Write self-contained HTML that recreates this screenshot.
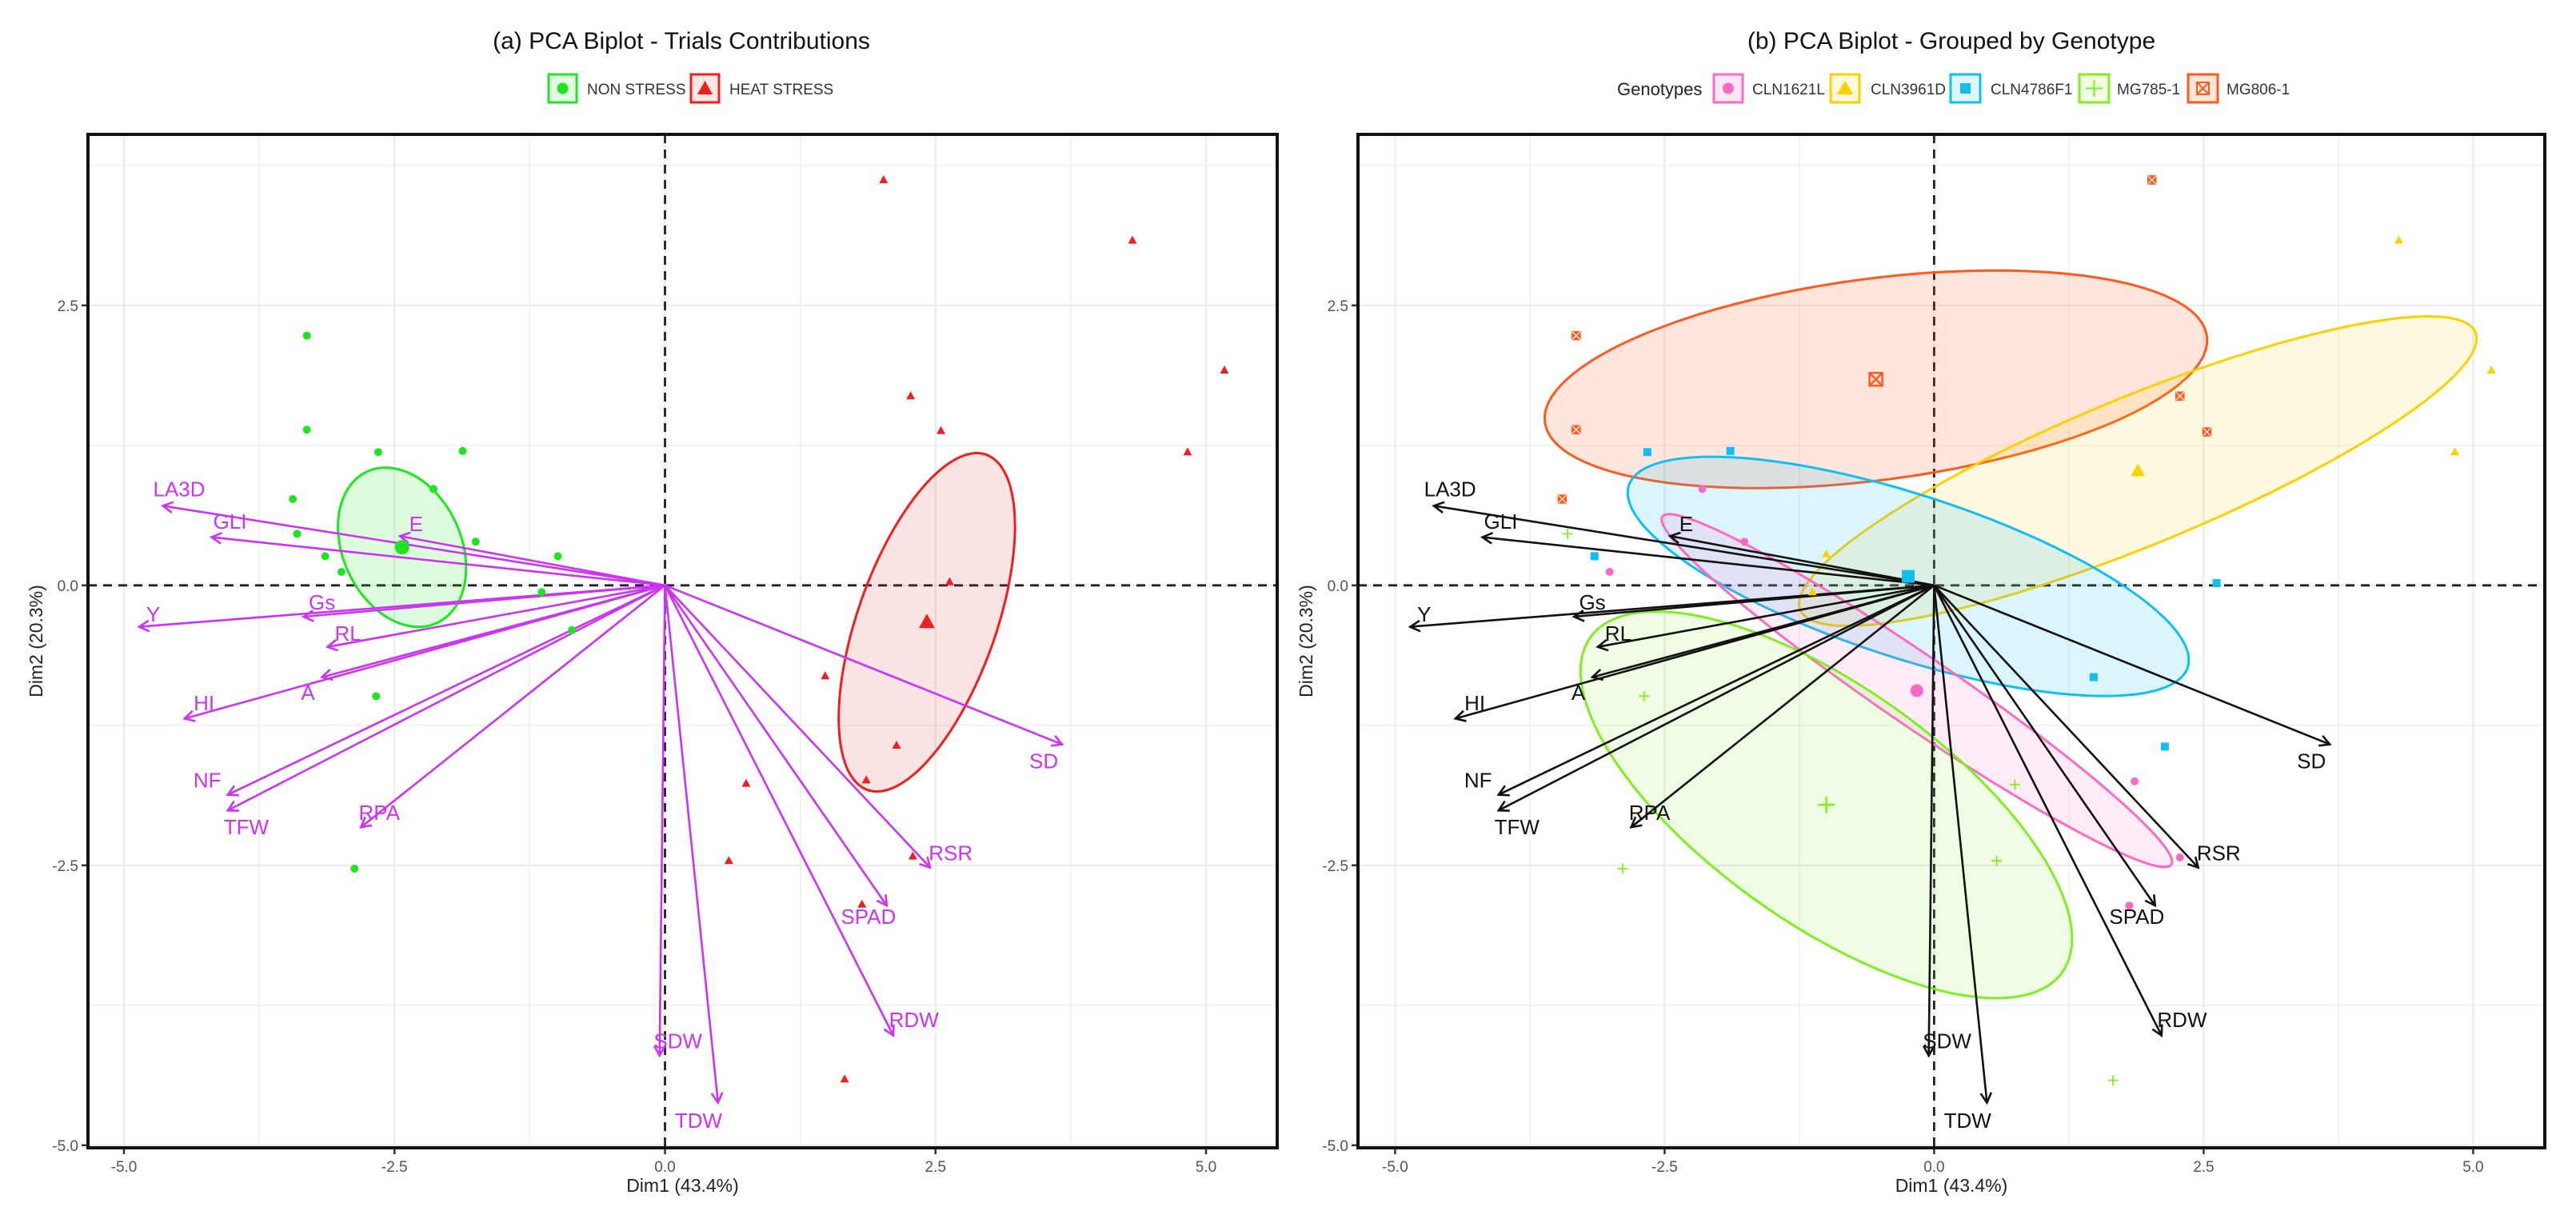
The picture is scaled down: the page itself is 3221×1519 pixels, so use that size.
<!DOCTYPE html>
<html><head><meta charset="utf-8"><style>
html,body{margin:0;padding:0;background:#fff;}
svg{display:block;font-family:"Liberation Sans",Arial,sans-serif;}
</style></head><body>
<svg id="chart" width="3221" height="1519" viewBox="0 0 3221 1519" xmlns="http://www.w3.org/2000/svg">
<rect width="3221" height="1519" fill="#fff"/>
<text x="852" y="61" font-size="30" text-anchor="middle" fill="#111">(a) PCA Biplot - Trials Contributions</text>
<text x="2440" y="61" font-size="30" text-anchor="middle" fill="#111">(b) PCA Biplot - Grouped by Genotype</text>
<g>
 <rect x="686" y="93" width="35" height="35" fill="#e6fbe6" stroke="#1ee61e" stroke-width="3"/>
 <circle cx="703.5" cy="110.5" r="7" fill="#1ee61e"/>
 <text x="734" y="118" font-size="19" fill="#333">NON STRESS</text>
 <rect x="864" y="93" width="35" height="35" fill="#fde6e6" stroke="#f21d1d" stroke-width="3"/>
 <polygon points="881.5,101 891,118 872,118" fill="#f21d1d"/>
 <text x="912" y="118" font-size="19" fill="#333">HEAT STRESS</text>
</g>
<g>
 <text x="2022" y="119" font-size="22" fill="#222">Genotypes</text>
 <rect x="2143" y="93" width="36" height="35" fill="#fde8f4" stroke="#ff69c4" stroke-width="3"/>
 <circle cx="2161" cy="110.5" r="7" fill="#ff69c4"/>
 <text x="2191" y="118" font-size="19" fill="#333">CLN1621L</text>
 <rect x="2289" y="93" width="36" height="35" fill="#fff8dc" stroke="#ffd000" stroke-width="3"/>
 <polygon points="2307,101 2317,118 2297,118" fill="#ffd000"/>
 <text x="2339" y="118" font-size="19" fill="#333">CLN3961D</text>
 <rect x="2439" y="93" width="37" height="35" fill="#e0f6fd" stroke="#10bff0" stroke-width="3"/>
 <rect x="2451" y="104" width="13" height="13" fill="#10bff0"/>
 <text x="2489" y="118" font-size="19" fill="#333">CLN4786F1</text>
 <rect x="2600" y="93" width="37" height="35" fill="#f2fde6" stroke="#7fef20" stroke-width="3"/>
 <path d="M2618.5 100 V121 M2608 110.5 H2629" stroke="#7fef20" stroke-width="2"/>
 <text x="2647" y="118" font-size="19" fill="#333">MG785-1</text>
 <rect x="2736" y="93" width="37" height="35" fill="#fde6dc" stroke="#ff5a1e" stroke-width="3"/>
 <rect x="2747" y="103" width="15" height="15" fill="none" stroke="#ff5a1e" stroke-width="2"/>
 <path d="M2747 103 L2762 118 M2762 103 L2747 118" stroke="#ff5a1e" stroke-width="2"/>
 <text x="2784" y="118" font-size="19" fill="#333">MG806-1</text>
</g>
<g id="plots"></g>
</svg>
<script>
// ---- data ----
const nsX = [-3.31,-3.31,-2.65,-1.87,-2.14,-3.44,-3.40,-1.75,-3.14,-0.99,-2.99,-1.14,-0.86,-2.67,-2.87];
const nsY = [2.23,1.39,1.19,1.20,0.86,0.77,0.46,0.39,0.26,0.26,0.12,-0.06,-0.40,-0.99,-2.53];
const hsX = [2.02,4.32,5.17,2.27,2.55,4.83,2.63,1.48,2.14,1.86,0.75,0.59,2.29,1.82,1.66];
const hsY = [3.62,3.08,1.92,1.69,1.38,1.19,0.03,-0.81,-1.43,-1.74,-1.77,-2.46,-2.42,-2.85,-4.41];
const varNames = ["LA3D","GLI","E","Gs","Y","RL","A","HI","NF","TFW","RPA","SDW","TDW","RDW","SPAD","RSR","SD"];
const varX = [-4.64,-4.19,-2.45,-3.34,-4.86,-3.12,-3.17,-4.44,-4.04,-4.04,-2.81,-0.05,0.49,2.11,2.05,2.45,3.67];
const varY = [0.71,0.43,0.44,-0.28,-0.37,-0.55,-0.82,-1.19,-1.87,-2.01,-2.16,-4.20,-4.62,-4.02,-2.86,-2.52,-1.42];
const labX = [-4.49,-4.02,-2.30,-3.17,-4.73,-2.93,-3.30,-4.26,-4.23,-3.87,-2.64,0.12,0.31,2.30,1.88,2.64,3.50];
const labY = [0.86,0.57,0.55,-0.15,-0.26,-0.43,-0.96,-1.05,-1.74,-2.16,-2.03,-4.07,-4.78,-3.88,-2.96,-2.39,-1.57];
const xTicks = [-5,-2.5,0,2.5,5];
const xTickLabels = ["-5.0","-2.5","0.0","2.5","5.0"];
const yTicks = [-5,-2.5,0,2.5];
const yTickLabels = ["-5.0","-2.5","0.0","2.5"];
// trial groups: centroid + ellipse axis vectors (data units)
const trialCenters = [[-2.43,0.34],[2.42,-0.33]];
const trialAxisA = [[-0.12,0.71],[0.54,1.50]];
const trialAxisB = [[0.58,-0.04],[0.61,-0.185]];
// genotypes
const genoNames = ["MG806-1","CLN3961D","CLN4786F1","CLN1621L","MG785-1"];
const g806X = [2.02,-3.32,-3.32,2.28,2.53,-3.45];
const g806Y = [3.62,2.23,1.39,1.69,1.37,0.77];
const g3961X = [4.31,5.17,4.83,-1.0,-1.13];
const g3961Y = [3.08,1.92,1.19,0.28,-0.06];
const g4786X = [-2.66,-1.89,-3.15,2.62,1.48,2.14];
const g4786Y = [1.19,1.20,0.26,0.02,-0.82,-1.44];
const g1621X = [-2.15,-1.76,-3.01,1.86,2.28,1.81];
const g1621Y = [0.86,0.39,0.12,-1.75,-2.43,-2.86];
const g785X = [-3.40,-2.69,-2.89,0.75,0.58,1.66];
const g785Y = [0.46,-0.99,-2.53,-1.78,-2.46,-4.42];
const genoCenters = [[-0.54,1.84],[1.89,1.02],[-0.24,0.08],[-0.16,-0.94],[-1.0,-1.96]];
const genoAxisA = [[3.07,0.39],[3.13,1.245],[2.59,-0.82],[2.36,-1.556],[2.17,-1.52]];
const genoAxisB = [[0.14,-0.89],[0.29,-0.60],[-0.26,-0.685],[-0.20,-0.25],[-0.70,-0.82]];

// ---- rendering ----
const NS = "http://www.w3.org/2000/svg";
const root = document.getElementById("plots");
function mk(tag, attrs, parent){const e=document.createElementNS(NS,tag);for(const k in attrs)e.setAttribute(k,attrs[k]);(parent||root).appendChild(e);return e;}

function makePanel(left,right,x0,xs,top,bottom,y0,ys,key){
  const sx=v=>x0+v*xs, sy=v=>y0-v*ys;
  const g=mk("g",{});
  
  
  // grid
  for(let v=-5;v<=5.01;v+=1.25){
    const major=Math.abs(v/2.5-Math.round(v/2.5))<1e-6;
    const l=mk("line",{x1:sx(v),x2:sx(v),y1:top,y2:bottom,stroke:"#ebebeb","stroke-width":major?2.2:1.2},g);
    
    
  }
  for(let v=-5;v<=3.76;v+=1.25){
    const major=Math.abs(v/2.5-Math.round(v/2.5))<1e-6;
    const l=mk("line",{x1:left,x2:right,y1:sy(v),y2:sy(v),stroke:"#ebebeb","stroke-width":major?2.2:1.2},g);
    
    
  }
  // ticks
  xTicks.forEach((v,i)=>{
    mk("line",{x1:sx(v),x2:sx(v),y1:bottom,y2:bottom+8,stroke:"#333","stroke-width":2.5},g);
    const t=mk("text",{x:sx(v),y:bottom+30,"font-size":19,"text-anchor":"middle",fill:"#555"},g);
    t.textContent=xTickLabels[i];
    
    
  });
  yTicks.forEach((v,i)=>{
    mk("line",{x1:left-8,x2:left,y1:sy(v),y2:sy(v),stroke:"#333","stroke-width":2.5},g);
    const t=mk("text",{x:left-12,y:sy(v)+7,"font-size":19,"text-anchor":"end",fill:"#555"},g);
    t.textContent=yTickLabels[i];
    
    
  });
  const xt=mk("text",{x:(left+right)/2,y:1490,"font-size":23,"text-anchor":"middle",fill:"#222"},g);
  xt.textContent="Dim1 (43.4%)";
  
  
  const yx=left-57, yy=(top+bottom)/2;
  const yt=mk("text",{x:yx,y:yy,"font-size":23,"text-anchor":"middle",fill:"#222",transform:`rotate(-90 ${yx} ${yy})`},g);
  yt.textContent="Dim2 (20.3%)";
  
  
  return {sx,sy,g,left,right,top,bottom};
}

function ellipsePath(p,c,a,b){
  let d="";
  for(let i=0;i<=96;i++){const t=i/96*2*Math.PI;
    const x=c[0]+a[0]*Math.cos(t)+b[0]*Math.sin(t), y=c[1]+a[1]*Math.cos(t)+b[1]*Math.sin(t);
    d+=(i?"L":"M")+p.sx(x).toFixed(1)+" "+p.sy(y).toFixed(1);}
  return d+"Z";
}
function marker(p,shape,x,y,size,color,parent){
  const cx=p.sx(x), cy=p.sy(y); let e;
  if(shape==="circle") e=mk("circle",{cx,cy,r:size,fill:color},parent);
  else if(shape==="tri") e=mk("polygon",{points:`${cx},${cy-size*1.2} ${cx+size*1.1},${cy+size*0.8} ${cx-size*1.1},${cy+size*0.8}`,fill:color},parent);
  else if(shape==="square") e=mk("rect",{x:cx-size,y:cy-size,width:2*size,height:2*size,fill:color},parent);
  else if(shape==="plus") e=mk("path",{d:`M${cx-size*1.3} ${cy}H${cx+size*1.3}M${cx} ${cy-size*1.3}V${cy+size*1.3}`,stroke:color,"stroke-width":size>6?2.5:1.8,fill:"none"},parent);
  else { e=mk("g",{},parent);
    mk("rect",{x:cx-size,y:cy-size,width:2*size,height:2*size,fill:size>6?"none":color,stroke:color,"stroke-width":size>6?2.5:1.5},e);
    mk("path",{d:`M${cx-size} ${cy-size}L${cx+size} ${cy+size}M${cx+size} ${cy-size}L${cx-size} ${cy+size}`,stroke:size>6?color:"#fff","stroke-width":size>6?2.5:1.2},e);}
  return e;
}
function drawArrows(p,color){
  const ox=p.sx(0), oy=p.sy(0);
  varNames.forEach((n,i)=>{
    const ex=p.sx(varX[i]), ey=p.sy(varY[i]);
    const ang=Math.atan2(ey-oy,ex-ox), h=14, w=0.5;
    const g=mk("g",{},p.g);
    
    
    mk("line",{x1:ox,y1:oy,x2:ex,y2:ey,stroke:color,"stroke-width":2.6},g);
    mk("path",{d:`M${ex-h*Math.cos(ang-w)} ${ey-h*Math.sin(ang-w)}L${ex} ${ey}L${ex-h*Math.cos(ang+w)} ${ey-h*Math.sin(ang+w)}`,stroke:color,"stroke-width":2.6,fill:"none"},g);
    const t=mk("text",{x:p.sx(labX[i]),y:p.sy(labY[i])+9,"font-size":26,"text-anchor":"middle",fill:color},p.g);
    t.textContent=n;
    
    
  });
}
function frame(p){
  mk("line",{x1:p.sx(0),x2:p.sx(0),y1:p.top,y2:p.bottom,stroke:"#222","stroke-width":2.8,"stroke-dasharray":"11 8"},p.g);
  mk("line",{x1:p.left,x2:p.right,y1:p.sy(0),y2:p.sy(0),stroke:"#222","stroke-width":2.8,"stroke-dasharray":"11 8"},p.g);
}
function border(p){
  const r=mk("rect",{x:p.left,y:p.top,width:p.right-p.left,height:p.bottom-p.top,fill:"none",stroke:"#111","stroke-width":4},p.g);
  
  
}

// Left panel
const pL = makePanel(110,1597,831.5,135.3,168,1435,731.8,140,"left");
frame(pL);
const trialColors=["#1ee61e","#f21d1d"], trialFill=["rgba(30,230,30,0.15)","rgba(242,29,29,0.12)"];
const trialNames=["non-stress","heat-stress"];
trialCenters.forEach((c,k)=>{
  const e=mk("path",{d:ellipsePath(pL,c,trialAxisA[k],trialAxisB[k]),fill:trialFill[k],stroke:trialColors[k],"stroke-width":3},pL.g);
  
  
});
drawArrows(pL,"#cc33f5");
nsX.forEach((x,i)=>{const m=marker(pL,"circle",x,nsY[i],5,"#1ee61e",pL.g);
  
  });
hsX.forEach((x,i)=>{const m=marker(pL,"tri",x,hsY[i],5,"#f21d1d",pL.g);
  
  });
{const m=marker(pL,"circle",trialCenters[0][0],trialCenters[0][1],9,"#1ee61e",pL.g);
 
 }
{const m=marker(pL,"tri",trialCenters[1][0],trialCenters[1][1],9,"#f21d1d",pL.g);
 
 }
border(pL);

// Right panel
const pR = makePanel(1698,3182,2418.4,134.8,168,1435,731.8,140,"right");
frame(pR);
const genoColors=["#ff5a1e","#ffd000","#10bff0","#ff69c4","#7fef20"];
const genoFills=["rgba(255,90,30,0.15)","rgba(255,208,0,0.12)","rgba(16,191,240,0.15)","rgba(255,105,196,0.13)","rgba(127,239,32,0.12)"];
const genoShapes=["xbox","tri","square","circle","plus"];
const genoXs=[g806X,g3961X,g4786X,g1621X,g785X], genoYs=[g806Y,g3961Y,g4786Y,g1621Y,g785Y];
genoCenters.forEach((c,k)=>{
  const e=mk("path",{d:ellipsePath(pR,c,genoAxisA[k],genoAxisB[k]),fill:genoFills[k],stroke:genoColors[k],"stroke-width":3},pR.g);
  
  
});
drawArrows(pR,"#111");
genoXs.forEach((xs,k)=>{
  xs.forEach((x,i)=>{const m=marker(pR,genoShapes[k],x,genoYs[k][i],5,genoColors[k],pR.g);
    
    });
  const c=marker(pR,genoShapes[k],genoCenters[k][0],genoCenters[k][1],8,genoColors[k],pR.g);
  
  
});
border(pR);
</script>
</body></html>
